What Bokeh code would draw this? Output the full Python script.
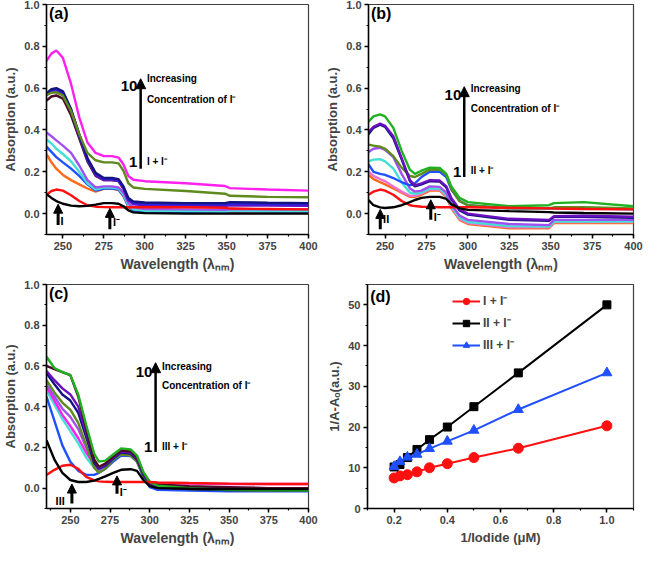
from bokeh.plotting import figure
from bokeh.layouts import row, column
from bokeh.models import (Range1d, FixedTicker, Label, Arrow, NormalHead, Legend,
                          LegendItem, PrintfTickFormatter)
from bokeh.embed import file_html
from bokeh.resources import INLINE

FONT = "Liberation Sans"

# ---------------- panel (a) : I + I- ----------------
wl_a = [240, 243, 246, 250, 255, 260, 265, 270, 275, 280, 284, 287, 290, 293, 300, 325, 349, 352, 375, 400]
a_black = [0.093, 0.075, 0.06, 0.047, 0.038, 0.035, 0.037, 0.043, 0.05, 0.05, 0.047, 0.035, 0.015, 0.006, 0.002, 0.0, 0.0, 0.0, 0.0, 0.0]
a_red = [0.09, 0.108, 0.115, 0.11, 0.088, 0.06, 0.04, 0.033, 0.031, 0.03, 0.03, 0.03, 0.03, 0.03, 0.03, 0.03, 0.028, 0.024, 0.022, 0.02]
a_orange = [0.285, 0.245, 0.215, 0.185, 0.16, 0.14, 0.12, 0.105, 0.118, 0.12, 0.113, 0.083, 0.032, 0.012, 0.006, 0.005, 0.004, 0.008, 0.006, 0.006]
a_blue = [0.32, 0.295, 0.27, 0.245, 0.215, 0.18, 0.14, 0.11, 0.12, 0.12, 0.115, 0.085, 0.035, 0.015, 0.01, 0.009, 0.008, 0.012, 0.01, 0.01]
a_cyan = [0.355, 0.335, 0.31, 0.285, 0.25, 0.2, 0.145, 0.115, 0.125, 0.125, 0.12, 0.09, 0.04, 0.02, 0.013, 0.012, 0.01, 0.014, 0.012, 0.012]
a_violet = [0.388, 0.37, 0.35, 0.325, 0.29, 0.23, 0.16, 0.125, 0.13, 0.13, 0.125, 0.1, 0.05, 0.03, 0.022, 0.02, 0.018, 0.022, 0.02, 0.02]
a_wine = [0.54, 0.56, 0.565, 0.55, 0.47, 0.36, 0.25, 0.18, 0.16, 0.16, 0.155, 0.12, 0.065, 0.05, 0.045, 0.042, 0.04, 0.044, 0.042, 0.04]
a_purple = [0.565, 0.585, 0.59, 0.575, 0.49, 0.37, 0.255, 0.185, 0.16, 0.16, 0.155, 0.12, 0.065, 0.045, 0.04, 0.038, 0.036, 0.04, 0.038, 0.037]
a_bluev = [0.57, 0.59, 0.595, 0.58, 0.495, 0.375, 0.26, 0.19, 0.165, 0.165, 0.16, 0.125, 0.07, 0.052, 0.047, 0.045, 0.043, 0.048, 0.045, 0.044]
a_navy = [0.575, 0.595, 0.60, 0.585, 0.50, 0.38, 0.265, 0.195, 0.17, 0.17, 0.165, 0.13, 0.075, 0.058, 0.053, 0.05, 0.05, 0.055, 0.052, 0.05]
a_olive = [0.568, 0.578, 0.58, 0.565, 0.49, 0.38, 0.29, 0.255, 0.245, 0.245, 0.24, 0.205, 0.145, 0.125, 0.118, 0.108, 0.095, 0.085, 0.08, 0.078]
a_magenta = [0.73, 0.765, 0.78, 0.745, 0.62, 0.46, 0.34, 0.29, 0.275, 0.275, 0.268, 0.235, 0.18, 0.162, 0.155, 0.145, 0.132, 0.122, 0.115, 0.11]

# ---------------- panel (b) : II + I- ----------------
wl_b = [240, 243, 247, 250, 255, 260, 265, 268, 272, 277, 283, 287, 290, 295, 300, 325, 349, 352, 370, 400]
b_black = [0.065, 0.04, 0.03, 0.027, 0.03, 0.04, 0.055, 0.065, 0.075, 0.08, 0.08, 0.07, 0.045, 0.025, 0.018, 0.012, 0.007, 0.005, 0.003, 0.0]
b_red = [0.09, 0.105, 0.115, 0.11, 0.09, 0.06, 0.04, 0.036, 0.033, 0.032, 0.03, 0.03, 0.03, 0.03, 0.03, 0.028, 0.025, 0.024, 0.022, 0.02]
b_orange = [0.185, 0.165, 0.15, 0.14, 0.12, 0.1, 0.08, 0.08, 0.09, 0.11, 0.11, 0.08, 0.025, -0.03, -0.05, -0.07, -0.07, -0.045, -0.045, -0.045]
b_pink = [0.2, 0.18, 0.165, 0.155, 0.13, 0.105, 0.085, 0.085, 0.095, 0.115, 0.115, 0.085, 0.03, -0.025, -0.045, -0.065, -0.065, -0.04, -0.04, -0.04]
b_cyan = [0.25, 0.258, 0.26, 0.25, 0.215, 0.15, 0.1, 0.095, 0.1, 0.12, 0.12, 0.09, 0.035, -0.02, -0.04, -0.06, -0.062, -0.038, -0.038, -0.038]
b_violet = [0.295, 0.31, 0.315, 0.305, 0.27, 0.19, 0.12, 0.105, 0.11, 0.13, 0.128, 0.1, 0.045, -0.01, -0.03, -0.05, -0.055, -0.03, -0.03, -0.03]
b_blue = [0.235, 0.2, 0.19, 0.185, 0.17, 0.15, 0.135, 0.145, 0.175, 0.2, 0.2, 0.175, 0.115, 0.06, 0.04, 0.025, 0.025, 0.025, 0.025, 0.02]
b_olive = [0.33, 0.325, 0.32, 0.31, 0.275, 0.22, 0.18, 0.175, 0.19, 0.21, 0.21, 0.185, 0.12, 0.06, 0.04, 0.025, 0.025, 0.03, 0.03, 0.025]
b_navy = [0.38, 0.41, 0.425, 0.415, 0.36, 0.26, 0.155, 0.13, 0.14, 0.155, 0.153, 0.125, 0.07, 0.015, -0.005, -0.03, -0.035, -0.015, -0.015, -0.02]
b_purple = [0.39, 0.415, 0.43, 0.42, 0.37, 0.265, 0.16, 0.135, 0.145, 0.16, 0.158, 0.13, 0.075, 0.02, 0.0, -0.025, -0.03, -0.012, -0.01, -0.015]
b_green = [0.44, 0.465, 0.475, 0.465, 0.41, 0.30, 0.21, 0.19, 0.205, 0.22, 0.218, 0.19, 0.13, 0.075, 0.055, 0.035, 0.04, 0.05, 0.055, 0.035]

# ---------------- panel (c) : III + I- ----------------
wl_c = [235, 240, 245, 250, 255, 260, 265, 268, 272, 277, 282, 288, 292, 296, 300, 305, 325, 350, 375, 400]
c_black = [0.235, 0.14, 0.075, 0.04, 0.03, 0.03, 0.037, 0.045, 0.058, 0.075, 0.09, 0.093, 0.085, 0.04, 0.01, 0.0, -0.003, -0.005, -0.005, -0.005]
c_red = [0.065, 0.09, 0.11, 0.115, 0.095, 0.055, 0.038, 0.033, 0.031, 0.03, 0.03, 0.03, 0.03, 0.03, 0.03, 0.028, 0.025, 0.022, 0.02, 0.02]
c_blue = [0.45, 0.33, 0.21, 0.13, 0.085, 0.065, 0.065, 0.075, 0.095, 0.13, 0.16, 0.158, 0.13, 0.055, 0.005, -0.008, -0.012, -0.015, -0.015, -0.015]
c_cyan = [0.48, 0.41, 0.34, 0.28, 0.22, 0.15, 0.1, 0.09, 0.105, 0.14, 0.17, 0.165, 0.135, 0.06, 0.02, 0.008, 0.0, -0.005, -0.008, -0.01]
c_magenta = [0.5, 0.43, 0.36, 0.305, 0.245, 0.175, 0.115, 0.1, 0.115, 0.15, 0.185, 0.18, 0.15, 0.07, 0.03, 0.025, 0.022, 0.02, 0.02, 0.02]
c_violet = [0.51, 0.45, 0.39, 0.35, 0.29, 0.2, 0.11, 0.09, 0.105, 0.145, 0.175, 0.17, 0.14, 0.065, 0.022, 0.01, 0.0, -0.005, -0.008, -0.01]
c_olive = [0.53, 0.47, 0.42, 0.385, 0.32, 0.21, 0.1, 0.075, 0.095, 0.14, 0.165, 0.16, 0.13, 0.06, 0.02, 0.005, -0.005, -0.01, -0.012, -0.012]
c_navy = [0.565, 0.51, 0.46, 0.43, 0.37, 0.25, 0.125, 0.095, 0.11, 0.145, 0.175, 0.17, 0.14, 0.065, 0.02, 0.005, -0.005, -0.01, -0.01, -0.012]
c_purple = [0.575, 0.53, 0.49, 0.46, 0.4, 0.27, 0.14, 0.1, 0.115, 0.15, 0.18, 0.175, 0.145, 0.07, 0.025, 0.012, 0.005, 0.0, -0.005, -0.005]
c_wine = [0.60, 0.585, 0.57, 0.555, 0.45, 0.29, 0.14, 0.105, 0.12, 0.155, 0.185, 0.18, 0.15, 0.075, 0.03, 0.018, 0.01, 0.005, 0.0, 0.0]
c_green = [0.645, 0.59, 0.57, 0.555, 0.46, 0.31, 0.17, 0.13, 0.135, 0.165, 0.195, 0.19, 0.16, 0.08, 0.03, 0.012, 0.0, -0.008, -0.01, -0.012]

# ---------------- panel (d) : double reciprocal ----------------
inv_iodide = [0.2, 0.222, 0.25, 0.286, 0.333, 0.4, 0.5, 0.667, 1.0]
d_I = [7.5, 8.0, 8.3, 9.0, 10.0, 11.0, 12.5, 14.8, 20.3]
d_II = [10.2, 10.8, 12.5, 14.5, 16.9, 20.0, 25.0, 33.3, 50.0]
d_III = [10.3, 11.5, 12.6, 13.3, 14.7, 16.5, 19.2, 24.3, 33.3]
d_labels = ["I + I\u207b", "II + I\u207b", "III + I\u207b"]

wl_ticks = [250, 275, 300, 325, 350, 375, 400]
wl_minor = [237.5, 250, 262.5, 275, 287.5, 300, 312.5, 325, 337.5, 350, 362.5, 375, 387.5, 400]
abs_ticks = [0.0, 0.2, 0.4, 0.6, 0.8, 1.0]
abs_minor = [-0.1, 0.0, 0.1, 0.2, 0.3, 0.4, 0.5, 0.6, 0.7, 0.8, 0.9, 1.0]
d_xticks = [0.2, 0.4, 0.6, 0.8, 1.0]
d_xminor = [0.1, 0.2, 0.3, 0.4, 0.5, 0.6, 0.7, 0.8, 0.9, 1.0, 1.1]
d_yticks = [0, 10, 20, 30, 40, 50]
d_yminor = [0, 5, 10, 15, 20, 25, 30, 35, 40, 45, 50, 55]

COL = {
    "black": "#000000", "red": "#FF1010", "orange": "#FF6A1A", "blue": "#2050FF",
    "cyan": "#45E0D5", "violet": "#A050EE", "wine": "#4A0A28", "purple": "#6A10C0",
    "bluev": "#2A20E0", "navy": "#141480", "olive": "#5E8A1E", "magenta": "#FF20F0",
    "green": "#20B020", "pink": "#F070D0",
}


def make_fig(width, height, xr, yr, mbl, mbr, mbt, mbb, xlabel, ylabel,
             xticks, xminor, yticks, yminor, xfmt, yfmt):
    p = figure(width=width, height=height, x_range=Range1d(*xr), y_range=Range1d(*yr),
               output_backend="svg", toolbar_location=None,
               min_border_left=mbl, min_border_right=mbr, min_border_top=mbt,
               min_border_bottom=mbb)
    p.grid.visible = False
    p.outline_line_color = "black"
    p.outline_line_width = 1.2
    p.outline_line_alpha = 0.75
    p.background_fill_color = "white"
    p.border_fill_color = "white"
    p.xaxis.ticker = FixedTicker(ticks=xticks, minor_ticks=xminor)
    p.yaxis.ticker = FixedTicker(ticks=yticks, minor_ticks=yminor)
    p.xaxis.formatter = PrintfTickFormatter(format=xfmt)
    p.yaxis.formatter = PrintfTickFormatter(format=yfmt)
    p.xaxis.axis_label = xlabel
    p.yaxis.axis_label = ylabel
    for ax in (p.xaxis[0], p.yaxis[0]):
        ax.axis_line_width = 1.5
        ax.major_tick_line_width = 1.5
        ax.minor_tick_line_width = 1.2
        ax.major_tick_in = 0
        ax.major_tick_out = 4
        ax.minor_tick_in = 0
        ax.minor_tick_out = 2
        ax.major_label_text_font = FONT
        ax.major_label_text_font_style = "bold"
        ax.major_label_text_font_size = "11px"
        ax.major_label_standoff = 3
        ax.axis_label_text_font = FONT
        ax.axis_label_text_font_style = "bold"
        ax.axis_label_standoff = 3
    p.xaxis.axis_label_text_font_size = "14px"
    p.yaxis.axis_label_text_font_size = "13px"
    return p


def txt(p, x, y, text, size, align="left", baseline="middle"):
    p.add_layout(Label(x=x, y=y, text=text, text_font=FONT, text_font_style="bold",
                       text_font_size=f"{size}px", text_align=align,
                       text_baseline=baseline, text_color="black"))


def arrow(p, x, y0, y1, size, lw):
    p.add_layout(Arrow(end=NormalHead(size=size, fill_color="black", line_color="black"),
                       x_start=x, y_start=y0, x_end=x, y_end=y1,
                       line_width=lw, line_color="black"))


def spectra(p, wl, series):
    for name, vals in series:
        p.line(wl, vals, line_color=COL[name], line_width=2.4)


WL_LABEL = "Wavelength (\u03bb\u2099\u2098)"
ABS_LABEL = "Absorption (a.u.)"

# ---- (a)
pa = make_fig(322, 274, (240, 400), (-0.1, 1.0), 38, 14, 4, 40, WL_LABEL, ABS_LABEL,
              wl_ticks, wl_minor, abs_ticks, abs_minor, "%d", "%.1f")
spectra(pa, wl_a, [("orange", a_orange), ("blue", a_blue), ("cyan", a_cyan),
                   ("violet", a_violet), ("wine", a_wine), ("purple", a_purple),
                   ("bluev", a_bluev), ("navy", a_navy), ("olive", a_olive),
                   ("magenta", a_magenta), ("red", a_red), ("black", a_black)])
txt(pa, 241.5, 0.955, "(a)", 16)
arrow(pa, 297.5, 0.215, 0.645, 10, 2.5)
txt(pa, 295.5, 0.61, "10", 15, align="right")
txt(pa, 295.5, 0.245, "1", 15, align="right")
txt(pa, 301.3, 0.645, "Increasing", 10)
txt(pa, 301.3, 0.545, "Concentration of  I\u207b", 10)
txt(pa, 301.3, 0.25, "I + I\u207b", 10)
arrow(pa, 247.1, -0.055, 0.045, 9, 3)
txt(pa, 248.6, -0.035, "I", 11)
arrow(pa, 278.7, -0.075, 0.025, 9, 3)
txt(pa, 280.6, -0.04, "I\u207b", 11)

# ---- (b)
pb = make_fig(323, 274, (240, 400), (-0.1, 1.0), 45, 12, 4, 40, WL_LABEL, ABS_LABEL,
              wl_ticks, wl_minor, abs_ticks, abs_minor, "%d", "%.1f")
spectra(pb, wl_b, [("orange", b_orange), ("pink", b_pink), ("cyan", b_cyan),
                   ("violet", b_violet), ("blue", b_blue), ("olive", b_olive),
                   ("navy", b_navy), ("purple", b_purple), ("green", b_green),
                   ("red", b_red), ("black", b_black)])
txt(pb, 241.5, 0.955, "(b)", 16)
arrow(pb, 297.8, 0.175, 0.607, 10, 2.5)
txt(pb, 296.0, 0.568, "10", 15, align="right")
txt(pb, 296.0, 0.2, "1", 15, align="right")
txt(pb, 301.7, 0.6, "Increasing", 10)
txt(pb, 301.7, 0.505, "Concentration of  I\u207b", 10)
txt(pb, 301.7, 0.207, "II + I\u207b", 10)
arrow(pb, 247.1, -0.075, 0.02, 9, 3)
txt(pb, 248.8, -0.025, "II", 11)
arrow(pb, 277.6, -0.03, 0.066, 9, 3)
txt(pb, 279.4, -0.017, "I\u207b", 11)

# ---- (c)
pc = make_fig(322, 274, (235, 400), (-0.1, 1.0), 38, 14, 10, 40, WL_LABEL, ABS_LABEL,
              wl_ticks, wl_minor, abs_ticks, abs_minor, "%d", "%.1f")
spectra(pc, wl_c, [("blue", c_blue), ("cyan", c_cyan), ("magenta", c_magenta),
                   ("violet", c_violet), ("olive", c_olive), ("navy", c_navy),
                   ("purple", c_purple), ("wine", c_wine), ("green", c_green),
                   ("red", c_red), ("black", c_black)])
txt(pc, 236.5, 0.955, "(c)", 16)
arrow(pc, 303.7, 0.177, 0.616, 10, 2.5)
txt(pc, 301.7, 0.572, "10", 15, align="right")
txt(pc, 301.7, 0.204, "1", 15, align="right")
txt(pc, 307.7, 0.598, "Increasing", 10)
txt(pc, 307.7, 0.506, "Concentration of  I\u207b", 10)
txt(pc, 307.7, 0.206, "III + I\u207b", 10)
txt(pc, 246.5, -0.065, "III", 11, align="right")
arrow(pc, 251.0, -0.075, 0.02, 9, 3)
arrow(pc, 279.4, -0.027, 0.06, 9, 3)
txt(pc, 281.2, -0.018, "I\u207b", 11)

# ---- (d)
pd = make_fig(323, 274, (0.1, 1.1), (0, 55), 45, 12, 10, 40, "1/Iodide (\u03bcM)",
              "1/A-A\u2092(a.u.)", d_xticks, d_xminor, d_yticks, d_yminor, "%.1f", "%d")
pd.xaxis.axis_label_text_font_size = "13px"
r1 = pd.line(inv_iodide, d_I, line_color="#FF1010", line_width=2)
s1 = pd.scatter(inv_iodide, d_I, marker="circle", size=10, fill_color="#FF1010", line_color="#FF1010")
r2 = pd.line(inv_iodide, d_II, line_color="black", line_width=2)
s2 = pd.scatter(inv_iodide, d_II, marker="square", size=8, fill_color="black", line_color="black")
r3 = pd.line(inv_iodide, d_III, line_color="#1F4FFF", line_width=2)
s3 = pd.scatter(inv_iodide, d_III, marker="triangle", size=10, fill_color="#1F4FFF", line_color="#1F4FFF")
txt(pd, 0.11, 52.0, "(d)", 16)
leg = Legend(items=[LegendItem(label=d_labels[0], renderers=[r1, s1]),
                    LegendItem(label=d_labels[1], renderers=[r2, s2]),
                    LegendItem(label=d_labels[2], renderers=[r3, s3])],
             location=(85, 155), glyph_width=28, glyph_height=16, label_height=16,
             spacing=5, padding=0, margin=0, label_standoff=3,
             background_fill_alpha=0, border_line_alpha=0,
             label_text_font=FONT, label_text_font_style="bold",
             label_text_font_size="12px")
pd.add_layout(leg)

layout = column(row(pa, pb), row(pc, pd))
open("out.html", "w").write(file_html(layout, INLINE))
